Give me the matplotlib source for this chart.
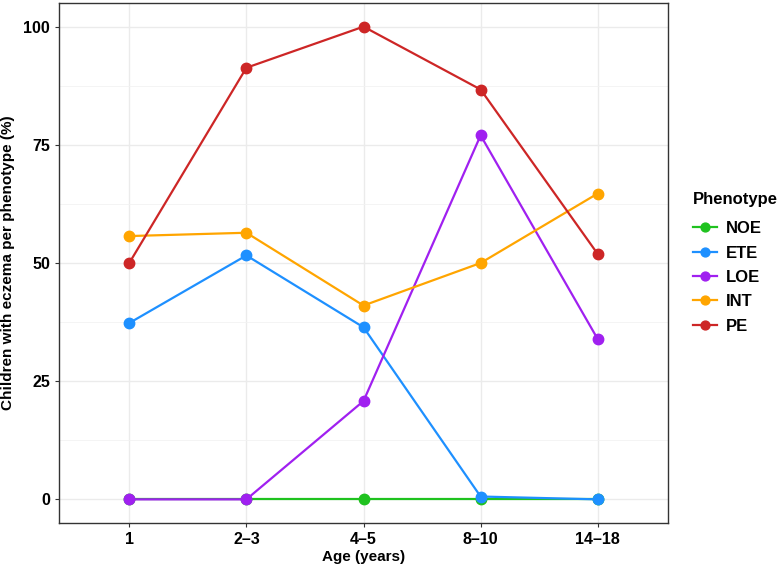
import matplotlib.pyplot as plt

plt.rcParams['font.family'] = ['Liberation Sans', 'DejaVu Sans']

# Data
ages = ['1', '2–3', '4–5', '8–10', '14–18']
phenotypes = ['NOE', 'ETE', 'LOE', 'INT', 'PE']
noe = [0, 0, 0, 0, 0]
ete = [37.3, 51.6, 36.4, 0.6, 0]
loe = [0, 0, 20.8, 77.0, 33.9]
int_ = [55.7, 56.4, 41.0, 50.0, 64.7]
pe = [50.0, 91.3, 100.0, 86.7, 51.9]
colors = ['#1FC21F', '#1E90FF', '#A020F0', '#FFA500', '#CD2626']

series = [noe, ete, loe, int_, pe]
xs = list(range(1, len(ages) + 1))

fig = plt.figure(figsize=(7.84, 5.70), dpi=100)
ax = fig.add_axes([59 / 784, 47 / 570, 609 / 784, 520 / 570])

for name, vals, col in zip(phenotypes, series, colors):
    ax.plot(xs, vals, color=col, lw=1.6, marker='o', ms=7.5, label=name)

ax.set_xlim(0.4, 5.6)
ax.set_ylim(-5, 105)
ax.set_xticks(xs)
ax.set_xticklabels(ages)
ax.set_yticks([0, 25, 50, 75, 100])
ax.set_yticks([12.5, 37.5, 62.5, 87.5], minor=True)
ax.set_xticks([], minor=True)

ax.grid(True, which='major', color='#EBEBEB', lw=1.0)
ax.grid(True, which='minor', axis='y', color='#F2F2F2', lw=0.6)
ax.set_axisbelow(True)
for sp in ax.spines.values():
    sp.set_color('#333333')
    sp.set_linewidth(1.0)

ax.tick_params(axis='both', which='major', length=3, width=0.8, color='#333333',
               labelsize=11.5, labelcolor='black')
ax.tick_params(axis='both', which='minor', length=0)
for lab in ax.get_xticklabels() + ax.get_yticklabels():
    lab.set_fontweight('bold')

ax.set_xlabel('Age (years)', fontsize=11, fontweight='bold', labelpad=2)
ax.set_ylabel('Children with eczema per phenotype (%)', fontsize=11,
              fontweight='bold', labelpad=6)

leg = ax.legend(title='Phenotype', loc='center left', bbox_to_anchor=(1.03, 0.5),
                borderaxespad=0, frameon=False, fontsize=12, title_fontsize=12,
                handlelength=1.45, handletextpad=0.5, labelspacing=0.56,
                markerscale=0.85)
leg.get_title().set_fontweight('bold')
leg._legend_box.align = 'left'
leg._legend_box.sep = 10
for t in leg.get_texts():
    t.set_fontweight('bold')

fig.savefig('out.png', dpi=100)
